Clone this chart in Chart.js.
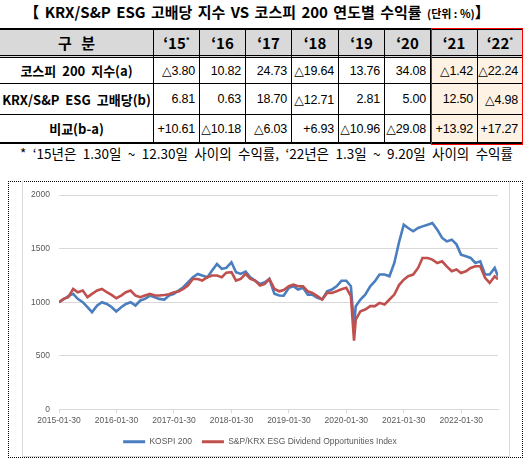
<!DOCTYPE html>
<html>
<head>
<meta charset="utf-8">
<script src="https://cdn.jsdelivr.net/npm/chart.js@4.4.0/dist/chart.umd.min.js"></script>
<style>
  body { margin: 0; width: 528px; height: 466px; background: #fff; position: relative; overflow: hidden;
         font-family: "Noto Sans CJK KR", sans-serif; color: #000; }
  #title { position: absolute; left: -7px; top: 1px; width: 528px; text-align: center; font-weight: bold;
           font-size: 15px; white-space: nowrap; word-spacing: 2px; }
  #title small { font-size: 11px; word-spacing: 0; }
  #tbl { position: absolute; left: 0; top: 28px; border-collapse: separate; border-spacing: 0;
         table-layout: fixed; width: 523px; border-top: 2px solid #000; }
  #tbl td { box-sizing: border-box; padding: 0; border-right: 1px solid #000; border-bottom: 1px solid #000;
            white-space: nowrap; overflow: hidden; }
  #tbl td:first-child { text-align: center; font-weight: bold; font-size: 13px; word-spacing: 3px; }
  #tbl tr.head td { background: #d9d9d9; height: 28px; font-weight: bold; font-size: 15px; text-align: center;
                    border-bottom: 3px double #000; }
  #tbl tr.head td:first-child { word-spacing: 6px; }
  #tbl tr.head td sup { font-size: 8px; vertical-align: 6px; }
  #tbl td.num { text-align: right; padding-right: 4px; font-family: "Liberation Sans", "DejaVu Sans", sans-serif;
                font-size: 12.5px; letter-spacing: -0.2px; }
  #tbl td.hl { background: #fdf2e4; }
  #tbl tr.last td { border-bottom: 2px solid #000; }
  #redbox { position: absolute; left: 431px; top: 28px; width: 92px; height: 117px; border: 1px solid #ff0000;
            box-sizing: border-box; }
  #note { position: absolute; left: 20px; top: 143px; font-size: 13.5px; white-space: nowrap; word-spacing: 3.4px; }
  #frame { position: absolute; left: 8px; top: 181px; width: 515px; height: 277px; box-sizing: border-box;
           border: 1px dotted #000; }
  #inner { position: absolute; left: 22px; top: 181px; width: 488px; height: 276px; box-sizing: border-box;
           border: 1px solid #d9d9d9; border-top: none; }
  #wrap { position: absolute; left: 8px; top: 181px; width: 515px; height: 277px; }
</style>
</head>
<body>
<div id="title">【 KRX/S&amp;P ESG 고배당 지수 VS 코스피 200 연도별 수익률 <small>(단위 : %)</small>】</div>
<table id="tbl"><tbody id="tbody"></tbody></table>
<div id="redbox"></div>
<div id="note">* ‘15년은 1.30일 ~ 12.30일 사이의 수익률, ‘22년은 1.3일 ~ 9.20일 사이의 수익률</div>
<div id="frame"></div>
<div id="inner"></div>
<div id="wrap"><canvas id="grafica"></canvas></div>
<script>
// table data
const tableYears = ['‘15', '‘16', '‘17', '‘18', '‘19', '‘20', '‘21', '‘22'];
const starredYears = ['‘15', '‘22'];
const rowLabels = ['코스피 200 지수(a)', 'KRX/S&P ESG 고배당(b)', '비교(b-a)'];
const kospiReturns = [-3.80, 10.82, 24.73, -19.64, 13.76, 34.08, -1.42, -22.24];
const esgReturns = [6.81, 0.63, 18.70, -12.71, 2.81, 5.00, 12.50, -4.98];
const diffReturns = [10.61, -10.18, -6.03, 6.93, -10.96, -29.08, 13.92, 17.27];

// chart data (monthly, index = 1000 at 2015-01-30)
const dates = [
  '2015-01-30','2015-02-27','2015-03-30','2015-04-30','2015-05-29','2015-06-30','2015-07-30','2015-08-28','2015-09-30','2015-10-30','2015-11-30','2015-12-30',
  '2016-01-29','2016-02-29','2016-03-30','2016-04-29','2016-05-30','2016-06-30','2016-07-29','2016-08-30','2016-09-30','2016-10-28','2016-11-30','2016-12-29',
  '2017-01-30','2017-02-28','2017-03-30','2017-04-28','2017-05-30','2017-06-30','2017-07-28','2017-08-30','2017-09-29','2017-10-30','2017-11-30','2017-12-28',
  '2018-01-30','2018-02-28','2018-03-30','2018-04-30','2018-05-30','2018-06-29','2018-07-30','2018-08-30','2018-09-28','2018-10-30','2018-11-30','2018-12-28',
  '2019-01-30','2019-02-28','2019-03-29','2019-04-30','2019-05-30','2019-06-28','2019-07-30','2019-08-30','2019-09-30','2019-10-30','2019-11-29','2019-12-30',
  '2020-01-30','2020-02-28','2020-03-19','2020-03-30','2020-04-29','2020-05-29','2020-06-30','2020-07-30','2020-08-28','2020-09-29','2020-10-30','2020-11-30','2020-12-30',
  '2021-01-29','2021-02-26','2021-03-30','2021-04-30','2021-05-28','2021-06-30','2021-07-30','2021-08-30','2021-09-30','2021-10-29','2021-11-30','2021-12-30',
  '2022-01-28','2022-02-28','2022-03-30','2022-04-29','2022-05-30','2022-06-30','2022-07-29','2022-08-30','2022-09-20'
];
const kospi200 = [
  1000, 1025, 1056, 1078, 1031, 1000, 953, 907, 969, 1000, 984, 955,
  913, 953, 984, 1000, 969, 1016, 1031, 1062, 1047, 1031, 1025, 1062,
  1078, 1109, 1140, 1186, 1233, 1264, 1249, 1233, 1295, 1357, 1311, 1320,
  1373, 1280, 1264, 1286, 1233, 1202, 1171, 1186, 1217, 1078, 1062, 1060,
  1134, 1149, 1118, 1134, 1071, 1071, 1040, 1025, 1102, 1118, 1149, 1200,
  1200, 1149, 780, 963, 1025, 1071, 1149, 1196, 1258, 1258, 1242, 1366, 1560,
  1724, 1693, 1662, 1693, 1708, 1724, 1739, 1677, 1600, 1568, 1584, 1540,
  1444, 1429, 1413, 1366, 1382, 1258, 1258, 1320, 1242
];
const esgDividend = [
  1000, 1031, 1047, 1124, 1093, 1109, 1047, 1078, 1109, 1124, 1093, 1068,
  1037, 1062, 1093, 1109, 1062, 1047, 1062, 1078, 1062, 1062, 1068, 1075,
  1093, 1099, 1124, 1155, 1217, 1217, 1202, 1233, 1249, 1249, 1233, 1276,
  1280, 1202, 1217, 1264, 1217, 1202, 1155, 1171, 1217, 1124, 1102, 1114,
  1149, 1165, 1149, 1149, 1102, 1087, 1056, 1025, 1087, 1087, 1102, 1120,
  1134, 1056, 640, 838, 916, 932, 963, 963, 994, 978, 1025, 1071, 1160,
  1211, 1242, 1258, 1320, 1413, 1413, 1398, 1366, 1382, 1335, 1289, 1305,
  1273, 1289, 1320, 1335, 1335, 1227, 1180, 1242, 1215
];
const xTickLabels = ['2015-01-30', '2016-01-30', '2017-01-30', '2018-01-30', '2019-01-30', '2020-01-30', '2021-01-30', '2022-01-30'];
const yTicks = { min: 0, max: 2000, step: 500 };

// build table
function fmt(v, plus) {
  if (v < 0) return '△' + Math.abs(v).toFixed(2);
  return (plus ? '+' : '') + v.toFixed(2);
}
const tbody = document.getElementById('tbody');
const widths = [154, 46, 46, 46, 47, 46, 46, 47, 45];
let html = '<tr class="head"><td style="width:' + widths[0] + 'px">구 분</td>';
tableYears.forEach((y, i) => {
  html += '<td style="width:' + widths[i + 1] + 'px">' + y + (starredYears.includes(y) ? '<sup>*</sup>' : '') + '</td>';
});
html += '</tr>';
const rows = [kospiReturns, esgReturns, diffReturns];
const heights = [26, 31, 29];
rows.forEach((r, ri) => {
  html += '<tr' + (ri === 2 ? ' class="last"' : '') + '><td style="height:' + heights[ri] + 'px">' + rowLabels[ri] + '</td>';
  r.forEach((v, i) => {
    html += '<td class="num' + (i >= 6 ? ' hl' : '') + '">' + fmt(v, ri === 2) + '</td>';
  });
  html += '</tr>';
});
tbody.innerHTML = html;

// chart
const t0 = Date.parse(dates[0]);
const toMonths = d => (Date.parse(d) - t0) / 86400000 / 30.4375;
const xs = dates.map(toMonths);
const axisFont = { family: 'Liberation Sans', size: 8.5 };

new Chart(document.getElementById('grafica').getContext('2d'), {
  type: 'line',
  data: {
    datasets: [{
      label: 'KOSPI 200',
      data: kospi200.map((v, i) => ({ x: xs[i], y: v })),
      borderColor: '#4a7ebf',
      backgroundColor: '#4a7ebf',
      borderWidth: 2.6,
      pointRadius: 0,
      order: 1
    }, {
      label: 'S&P/KRX ESG Dividend Opportunities Index',
      data: esgDividend.map((v, i) => ({ x: xs[i], y: v })),
      borderColor: '#c0504d',
      backgroundColor: '#c0504d',
      borderWidth: 2.6,
      pointRadius: 0,
      order: 0
    }]
  },
  options: {
    responsive: true,
    maintainAspectRatio: false,
    animation: false,
    layout: { padding: { left: 14, right: 25, top: 13, bottom: 2 } },
    plugins: {
      tooltip: { enabled: false },
      legend: {
        position: 'bottom',
        labels: {
          boxWidth: 22,
          boxHeight: 3,
          padding: 10,
          color: '#595959',
          font: axisFont,
          generateLabels: function(chart) {
            return Chart.defaults.plugins.legend.labels.generateLabels(chart)
              .map(l => Object.assign(l, { lineWidth: 0 }))
              .sort((a, b) => a.datasetIndex - b.datasetIndex);
          }
        }
      }
    },
    scales: {
      x: {
        type: 'linear',
        min: 0,
        max: xs[xs.length - 1],
        grid: { drawOnChartArea: false, color: '#d9d9d9', tickLength: 4 },
        border: { color: '#d9d9d9' },
        ticks: {
          autoSkip: false,
          maxRotation: 0,
          padding: 2,
          color: '#595959',
          font: axisFont,
          callback: v => xTickLabels[Math.round(v / 12)]
        },
        afterBuildTicks: function(scale) {
          scale.ticks = xTickLabels.map((_, i) => ({ value: i * 12 }));
        }
      },
      y: {
        min: yTicks.min,
        max: yTicks.max,
        grid: { color: '#d9d9d9', drawTicks: false },
        border: { display: false },
        ticks: { stepSize: yTicks.step, padding: 9, color: '#595959', font: axisFont, callback: v => String(v) },
        afterFit: function(scale) { scale.width = 37; }
      }
    }
  }
});
</script>
</body>
</html>
